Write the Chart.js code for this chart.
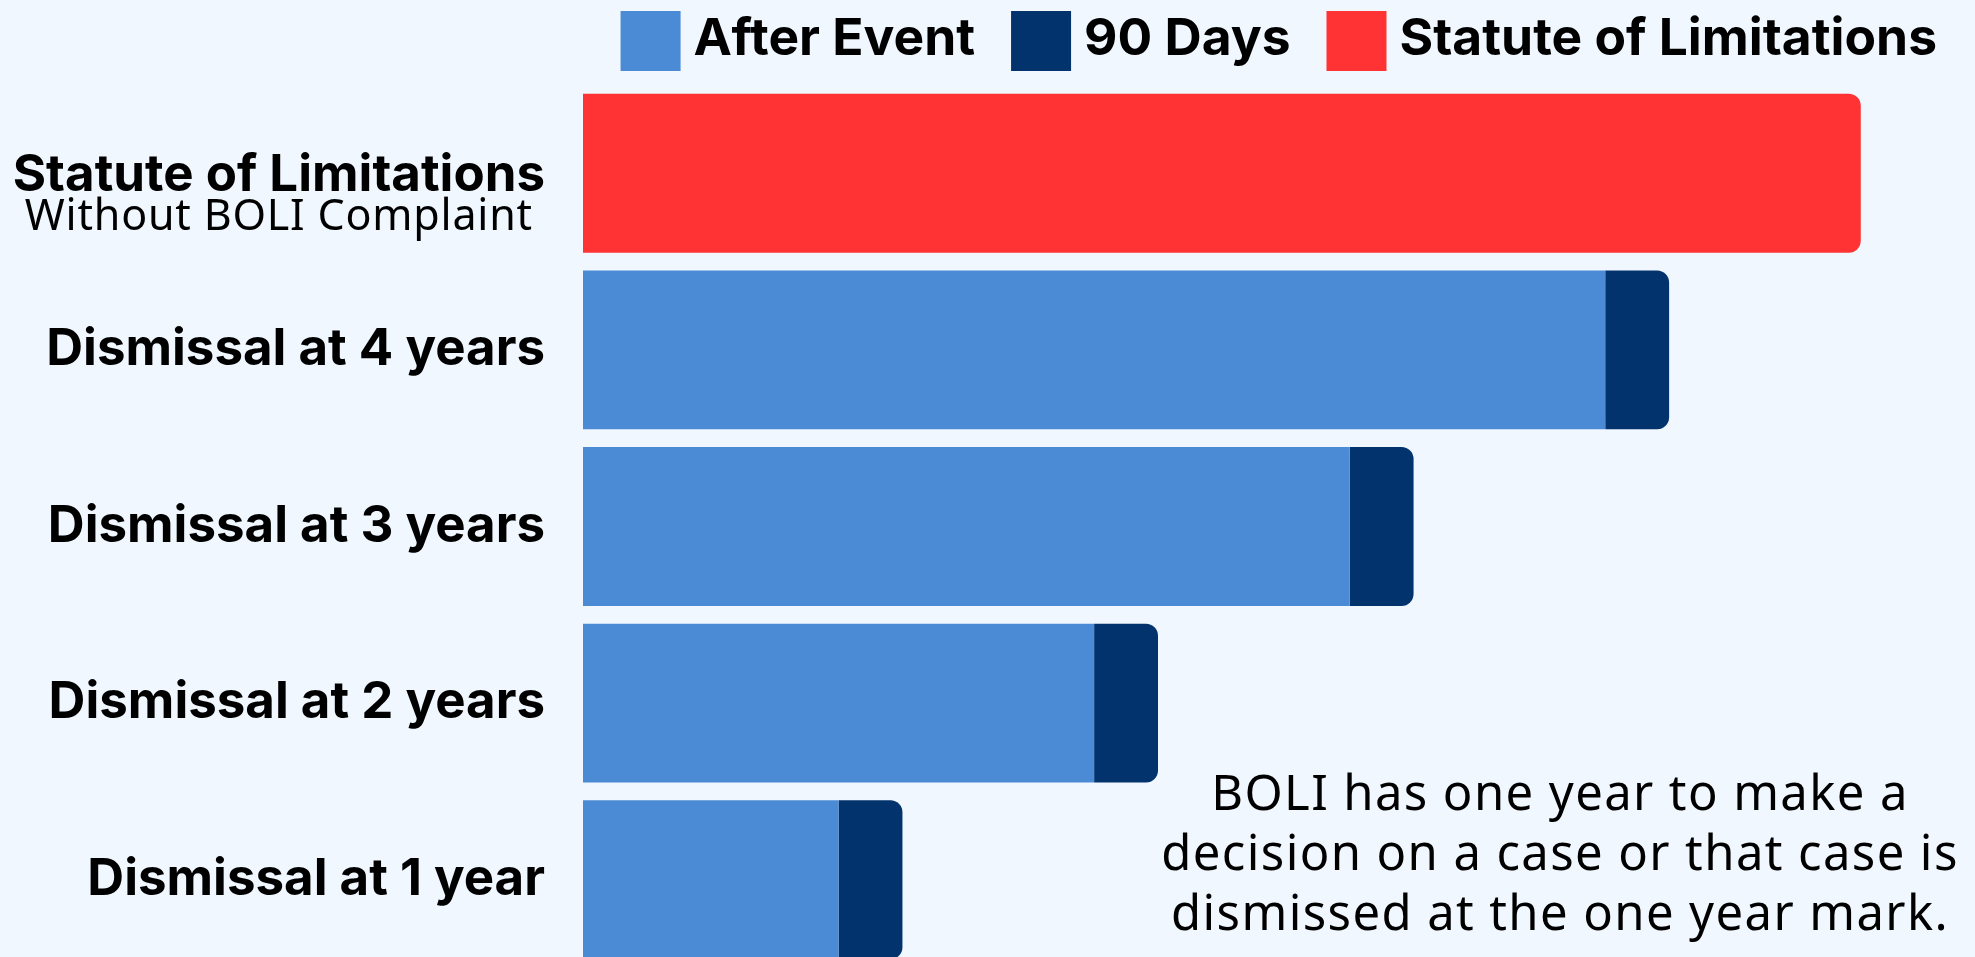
<!DOCTYPE html>
<html><head><meta charset="utf-8">
<script src="https://cdn.jsdelivr.net/npm/chart.js@4.4.1/dist/chart.umd.min.js"></script>
<style>
html,body{margin:0;padding:0;background:#F0F7FE;overflow:hidden;}
#wrap{position:relative;width:1975px;height:968px;}
</style></head><body>
<div id="wrap"><canvas id="c"></canvas></div>
<script>
// ---- data ----
const categories = ['Statute of Limitations', 'Dismissal at 4 years', 'Dismissal at 3 years', 'Dismissal at 2 years', 'Dismissal at 1 year'];
const firstLabelSub = 'Without BOLI Complaint';
const seriesNames = ['After Event', '90 Days', 'Statute of Limitations'];
const afterEvent = [null, 4, 3, 2, 1];
const ninetyDays = [null, 0.25, 0.25, 0.25, 0.25];
const statute = [5, null, null, null, null];
const noteLines = ['BOLI has one year to make a', 'decision on a case or that case is', 'dismissed at the one year mark.'];

// ---- styles ----
const COLORS = {light: '#4B8BD5', dark: '#03336D', red: '#FF3333', text: '#000000'};
const LABEL_SIZE = 51;
const BOLD = '700 ' + LABEL_SIZE + 'px Inter';
const LEGEND_FONT = '700 51.5px Inter';
const endRadius = {topLeft: 0, bottomLeft: 0, topRight: 12, bottomRight: 12};
const TICK_PAD = 38;

const firstLabelPlugin = {
  id: 'firstLabel',
  afterDraw(chart) {
    const s = chart.scales.y, ctx = chart.ctx;
    const yc = s.getPixelForTick(0);
    const xr = s.right - TICK_PAD;
    ctx.save();
    ctx.fillStyle = COLORS.text;
    ctx.font = BOLD;
    ctx.textBaseline = 'alphabetic';
    ctx.textAlign = 'right';
    const w = ctx.measureText(categories[0]).width;
    ctx.fillText(categories[0], xr, yc + 17.5);
    ctx.font = '400 43px "Noto Sans"';
    try { ctx.letterSpacing = '0.8px'; } catch (e) {}
    ctx.textAlign = 'center';
    ctx.fillText(firstLabelSub, xr - w / 2, yc + 57);
    ctx.restore();
  }
};

const legendPlugin = {
  id: 'boxLegend',
  afterDraw(chart) {
    const ctx = chart.ctx;
    ctx.save();
    ctx.font = LEGEND_FONT;
    const items = chart.data.datasets.map(d => ({text: d.label, color: d.backgroundColor, w: ctx.measureText(d.label).width}));
    const box = 60, gapBT = 13, gapItem = 36, rightEnd = 1937, boxTop = 11, baseline = 55;
    const total = items.reduce((s, it) => s + box + gapBT + it.w, 0) + gapItem * (items.length - 1);
    let x = rightEnd - total;
    ctx.textBaseline = 'alphabetic';
    ctx.textAlign = 'left';
    items.forEach(it => {
      ctx.fillStyle = it.color;
      ctx.fillRect(x, boxTop, box, box);
      ctx.fillStyle = COLORS.text;
      ctx.fillText(it.text, x + box + gapBT, baseline);
      x += box + gapBT + it.w + gapItem;
    });
    ctx.restore();
  }
};

const notePlugin = {
  id: 'note',
  afterDraw(chart) {
    const ctx = chart.ctx;
    ctx.save();
    ctx.fillStyle = COLORS.text;
    ctx.font = '400 49px "Noto Sans"';
    try { ctx.letterSpacing = '1.4px'; } catch (e) {}
    ctx.textAlign = 'center';
    ctx.textBaseline = 'alphabetic';
    const cx = 1560, base = 810, pitch = 60;
    noteLines.forEach((t, i) => ctx.fillText(t, cx, base + i * pitch));
    ctx.restore();
  }
};

new Chart(document.getElementById('c'), {
  type: 'bar',
  data: {
    labels: categories,
    datasets: [
      {label: seriesNames[0], data: afterEvent, backgroundColor: COLORS.light, borderRadius: 0, borderSkipped: 'start'},
      {label: seriesNames[1], data: ninetyDays, backgroundColor: COLORS.dark, borderRadius: endRadius, borderSkipped: 'start'},
      {label: seriesNames[2], data: statute, backgroundColor: COLORS.red, borderRadius: endRadius, borderSkipped: 'start'}
    ]
  },
  options: {
    indexAxis: 'y',
    responsive: true,
    maintainAspectRatio: false,
    animation: false,
    datasets: {bar: {barPercentage: 0.9, categoryPercentage: 1.0}},
    layout: {padding: {top: 85, right: 12, bottom: 0, left: 0}},
    scales: {
      x: {stacked: true, min: 0, max: 5.4, display: false},
      y: {
        stacked: true,
        grid: {display: false, drawTicks: false},
        border: {display: false},
        ticks: {
          padding: TICK_PAD,
          color: COLORS.text,
          font: {family: 'Inter', weight: '700', size: LABEL_SIZE},
          callback: (v, i) => (i === 0 ? '' : categories[i])
        },
        afterFit: s => { s.width = 583; s.paddingTop = 0; s.paddingBottom = 0; }
      }
    },
    plugins: {legend: {display: false}, tooltip: {enabled: false}}
  },
  plugins: [firstLabelPlugin, legendPlugin, notePlugin]
});
</script>
</body></html>
